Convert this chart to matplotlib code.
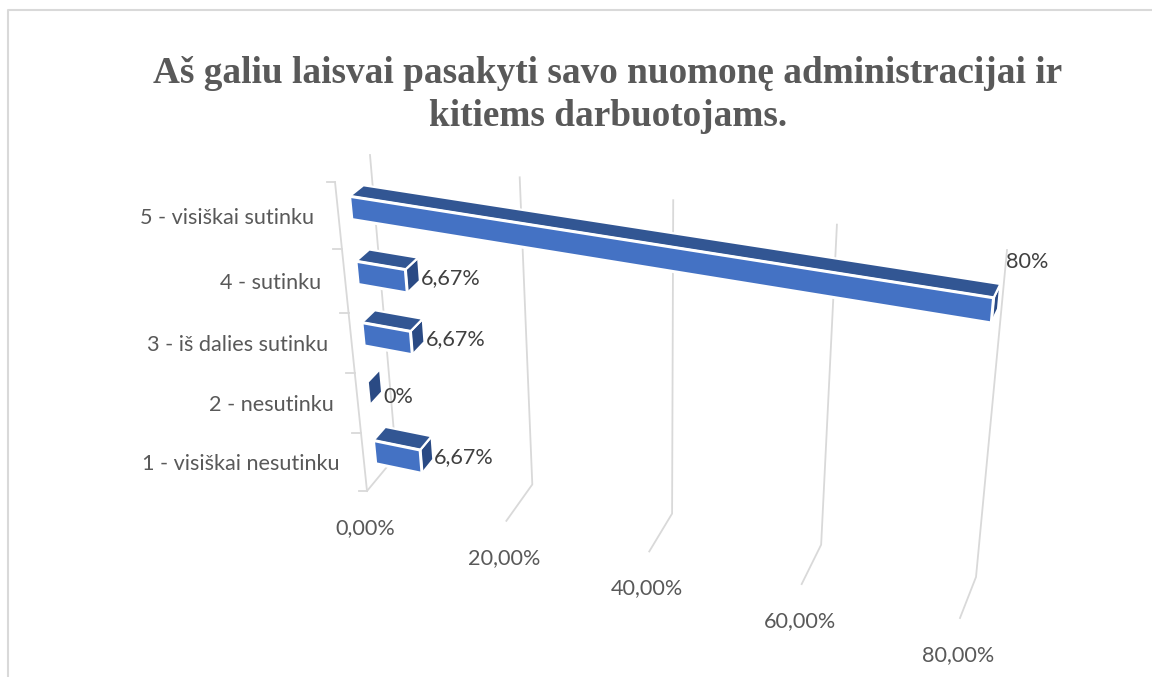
# 3D-look bar chart, drawn on a flat axes with a small projection helper

import numpy as np
import matplotlib.pyplot as plt
from matplotlib.patches import Polygon

# %% data ---------------------------------------------------------------------

title = 'Aš galiu laisvai pasakyti savo nuomonę administracijai ir\nkitiems darbuotojams.'
categories = ['5 - visiškai sutinku', '4 - sutinku', '3 - iš dalies sutinku',
              '2 - nesutinku', '1 - visiškai nesutinku']
values = [80, 6.67, 6.67, 0, 6.67]
axis_ticks = [0, 20, 40, 60, 80]

# %% projection ---------------------------------------------------------------

# how far along the value axis each tick sits, and where the category ticks are
tick_frac = [0, 0.235, 0.476, 0.733, 1]
cat_edges = np.array([0, 0.217, 0.424, 0.618, 0.812, 1])

# corners of the box, (value, top/bottom), pixels
front = {'lt': (335, 182), 'lb': (367, 491), 'rt': (990, 284), 'rb': (960, 618)}
back = {'lt': (370, 155), 'lb': (396, 456), 'rt': (1007, 250), 'rb': (976, 577)}


def project(v, c, d):
    # v = value, c = 0 top to 1 bottom, d = 0 front to 1 back
    t = np.interp(v, axis_ticks, tick_frac)
    out = []
    for i in (0, 1):
        f = (1-t)*((1-c)*front['lt'][i] + c*front['lb'][i]) + t*((1-c)*front['rt'][i] + c*front['rb'][i])
        b = (1-t)*((1-c)*back['lt'][i] + c*back['lb'][i]) + t*((1-c)*back['rt'][i] + c*back['rb'][i])
        out.append((1-d)*f + d*b)
    return out


# %% figure -------------------------------------------------------------------

fig = plt.figure(figsize=(11.52, 6.77), dpi=100)
ax = fig.add_axes([0, 0, 1, 1])
ax.set_xlim(0, 1152)
ax.set_ylim(677, 0)
ax.axis('off')

grey = '#d9d9d9'
text_col = '#595959'
label_font = 'Lato'
label_size = 15.6

# outer frame, open at the right and bottom
ax.plot([8, 8, 1152], [677, 10, 10], color=grey, lw=1.5, solid_capstyle='butt')

ax.text(608, 95, title, ha='center', va='center', family='Liberation Serif', weight='bold',
        fontsize=26.8, color=text_col, linespacing=1.3)

# grid lines and value labels
for v in axis_ticks:
    pts = [project(v, 0, 1), project(v, 1, 1), project(v, 1, 0)]
    ax.plot(*zip(*pts), color=grey, lw=1.3, zorder=1)
    x, y = project(v, 1, 0)
    ax.text(x-2, y+37, f'{v:.2f}%'.replace('.', ','), ha='center', va='center',
            family=label_font, fontsize=label_size, color=text_col)

# left edge and category ticks
ax.plot(*zip(project(0, 0, 0), project(0, 1, 0)), color=grey, lw=1.3, zorder=1)
for c in cat_edges:
    x, y = project(0, c, 0)
    ax.plot([x-8.5, x], [y, y], color=grey, lw=1.3, zorder=1)

# bars
top_col = '#325693'
front_col = '#4472c4'
side_col = '#2a4a84'
d0, d1 = 0.35, 0.75
half = 0.038

for i, (name, v) in enumerate(zip(categories, values)):
    mid = (cat_edges[i] + cat_edges[i+1]) / 2
    c0, c1 = mid + 0.007 - half, mid + 0.007 + half

    side = [project(v, c0, d0), project(v, c0, d1), project(v, c1, d1), project(v, c1, d0)]
    ax.add_patch(Polygon(side, fc=side_col, ec='white', lw=1.6, zorder=3))
    if v > 0:
        top = [project(0, c0, d0), project(0, c0, d1), project(v, c0, d1), project(v, c0, d0)]
        face = [project(0, c0, d0), project(v, c0, d0), project(v, c1, d0), project(0, c1, d0)]
        ax.add_patch(Polygon(top, fc=top_col, ec='white', lw=1.6, zorder=3))
        ax.add_patch(Polygon(face, fc=front_col, ec='white', lw=2.2, zorder=4))

    # category label
    x, y = project(0, mid, 0)
    ax.text(x-24, y+2, name, ha='right', va='center', family=label_font, fontsize=label_size, color=text_col)

    # data label, the 80% one sits above the bar end and 0% a bit lower
    x, y = project(v, mid, d1)
    lab = f'{v:g}%'.replace('.', ',')
    if v == 80:
        x, y = x+7, y-32
    elif v == 0:
        x, y = x+2, y+19
    else:
        x, y = x+2, y+11
    ax.text(x, y, lab, ha='left', va='center', family=label_font, fontsize=label_size,
            color='#404040', zorder=5)

fig.savefig('out.png', dpi=100)
